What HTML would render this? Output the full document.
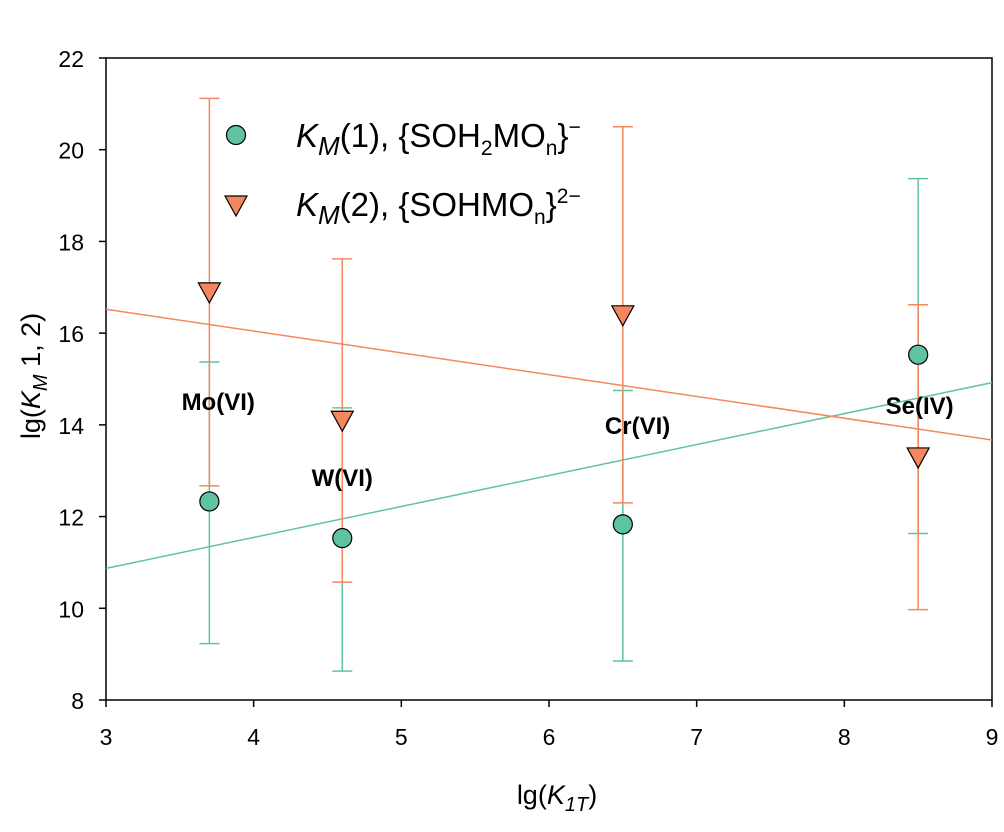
<!DOCTYPE html>
<html><head><meta charset="utf-8"><style>
body{margin:0;background:#fff}
svg text{font-family:"Liberation Sans",Arial,sans-serif}
</style></head><body>
<svg width="1004" height="827" viewBox="0 0 1004 827">
<g id="plot"></g>
</svg>
<script>
const cats=["Mo(VI)","W(VI)","Cr(VI)","Se(IV)"];
const xVals=[3.7,4.6,6.5,8.5];
const k1=[12.33,11.53,11.83,15.53];
const k1Lo=[9.23,8.63,8.85,11.63];
const k1Hi=[15.37,14.37,14.75,19.37];
const k2=[16.9,14.1,16.4,13.3];
const k2Lo=[12.67,10.57,12.3,9.97];
const k2Hi=[21.12,17.62,20.5,16.62];
const fit1=[[3,10.87],[9,14.92]];
const fit2=[[3,16.52],[9,13.67]];
const labelPos=[[3.76,14.32],[4.6,12.67],[6.6,13.8],[8.51,14.24]];
const xTicks=[3,4,5,6,7,8,9];
const yTicks=[8,10,12,14,16,18,20,22];
const X0=106,X1=992,Y0=700,Y1=58;
const sx=v=>X0+(v-3)/6*(X1-X0);
const sy=v=>Y0-(v-8)/14*(Y0-Y1);
const G='#5fc3a1',O='#f4875e';
const g=document.getElementById('plot');
const NS='http://www.w3.org/2000/svg';
function el(t,a,txt){const e=document.createElementNS(NS,t);for(const k in a)e.setAttribute(k,a[k]);if(txt!==undefined)e.textContent=txt;g.appendChild(e);return e;}
let e;
e=el('rect',{x:X0,y:Y1,width:X1-X0,height:Y0-Y1,fill:'none',stroke:'#000','stroke-width':1.5});

xTicks.forEach(t=>{
 e=el('line',{x1:sx(t),x2:sx(t),y1:Y0,y2:Y0+7,stroke:'#000','stroke-width':1.5});
 
 e=el('text',{x:sx(t),y:Y0+45,'text-anchor':'middle','font-size':23},t);
 
});
yTicks.forEach(t=>{
 e=el('line',{x1:X0-7,x2:X0,y1:sy(t),y2:sy(t),stroke:'#000','stroke-width':1.5});
 
 e=el('text',{x:X0-22,y:sy(t)+9,'text-anchor':'end','font-size':23},t);
 
});
e=el('line',{x1:sx(fit1[0][0]),y1:sy(fit1[0][1]),x2:sx(fit1[1][0]),y2:sy(fit1[1][1]),stroke:G,'stroke-width':1.5});

e=el('line',{x1:sx(fit2[0][0]),y1:sy(fit2[0][1]),x2:sx(fit2[1][0]),y2:sy(fit2[1][1]),stroke:O,'stroke-width':1.5});

function errbar(x,lo,hi,c,name){
 const px=sx(x);
 e=el('line',{x1:px,x2:px,y1:sy(lo),y2:sy(hi),stroke:c,'stroke-width':1.5});
 
 [lo,hi].forEach(v=>{e=el('line',{x1:px-10,x2:px+10,y1:sy(v),y2:sy(v),stroke:c,'stroke-width':1.5});
 });
}
xVals.forEach((x,i)=>{errbar(x,k1Lo[i],k1Hi[i],G,'errorbar-km1');errbar(x,k2Lo[i],k2Hi[i],O,'errorbar-km2');});
function tri(cx,cy){return `${cx-11},${cy-9} ${cx+11},${cy-9} ${cx},${cy+11}`;}
xVals.forEach((x,i)=>{
 e=el('circle',{cx:sx(x),cy:sy(k1[i]),r:9.5,fill:G,stroke:'#000','stroke-width':1.2});
 
 e=el('polygon',{points:tri(sx(x),sy(k2[i])),fill:O,stroke:'#000','stroke-width':1.2});
 
 e=el('text',{x:sx(labelPos[i][0]),y:sy(labelPos[i][1]),'text-anchor':'middle','font-size':24,'font-weight':'bold'},cats[i]);
 
});
e=el('circle',{cx:236,cy:135,r:9.5,fill:G,stroke:'#000','stroke-width':1.2});

e=el('polygon',{points:tri(236,205),fill:O,stroke:'#000','stroke-width':1.2});

e=el('text',{x:296,y:147,'font-size':33});
e.innerHTML='<tspan font-style="italic">K</tspan><tspan font-style="italic" font-size="26" dy="8">M</tspan><tspan dy="-8">(1), {SOH</tspan><tspan font-size="21" dy="8">2</tspan><tspan dy="-8">MO</tspan><tspan font-size="21" dy="8">n</tspan><tspan dy="-8">}</tspan><tspan font-size="21" dy="-13">−</tspan>';

e=el('text',{x:296,y:216,'font-size':33});
e.innerHTML='<tspan font-style="italic">K</tspan><tspan font-style="italic" font-size="26" dy="8">M</tspan><tspan dy="-8">(2), {SOHMO</tspan><tspan font-size="21" dy="8">n</tspan><tspan dy="-8">}</tspan><tspan font-size="21" dy="-13">2−</tspan>';

e=el('text',{x:557,y:804,'text-anchor':'middle','font-size':27});
e.innerHTML='lg(<tspan font-style="italic">K</tspan><tspan font-style="italic" font-size="20" dy="7">1T</tspan><tspan dy="-7">)</tspan>';

e=el('text',{x:0,y:0,'text-anchor':'middle','font-size':27,transform:'translate(40,376) rotate(-90)'});
e.innerHTML='lg(<tspan font-style="italic">K</tspan><tspan font-style="italic" font-size="20" dy="7">M</tspan><tspan dy="-7"> 1, 2)</tspan>';

</script>
</body></html>
